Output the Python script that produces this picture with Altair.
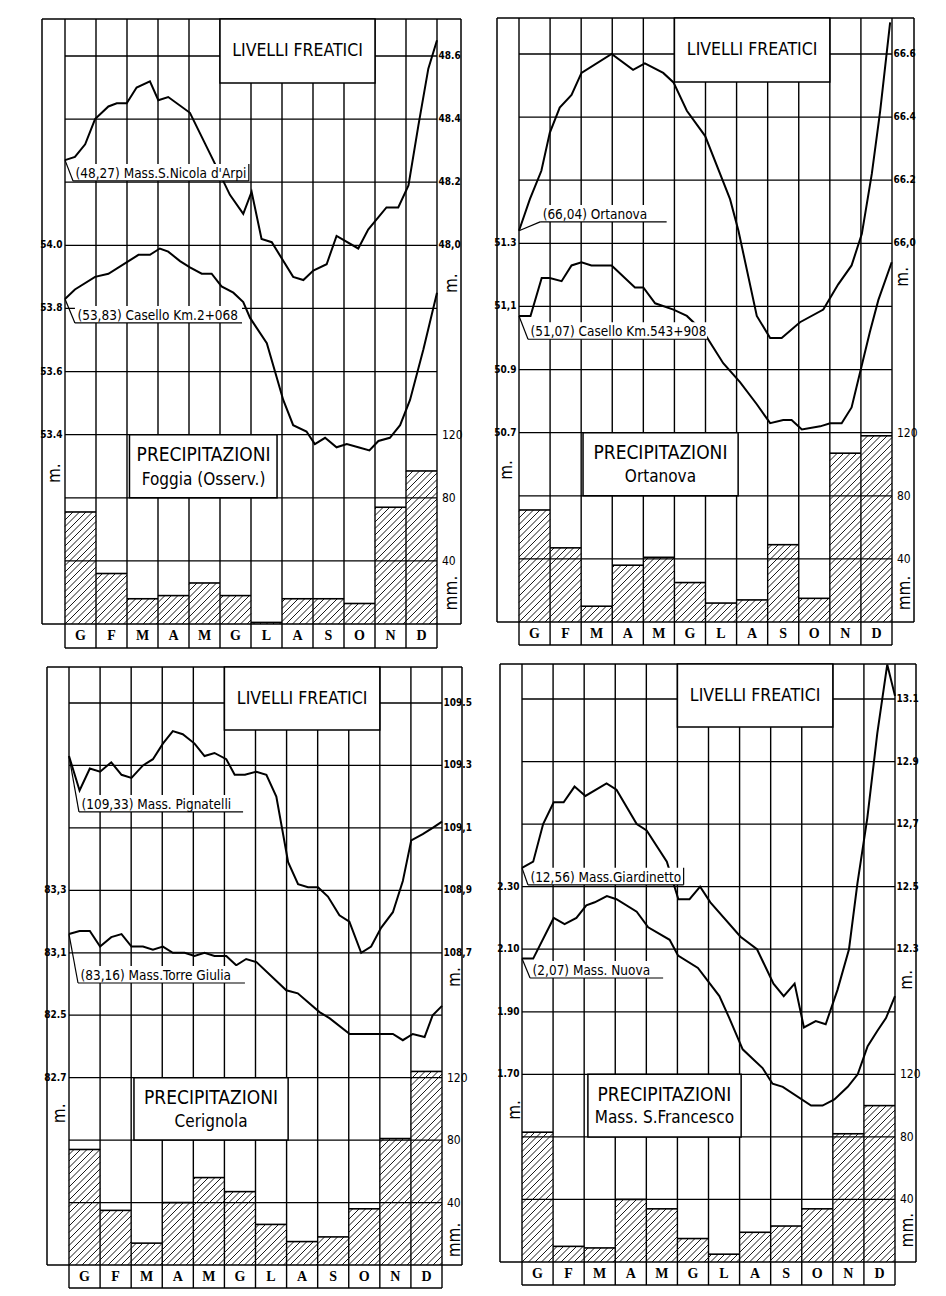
import altair as alt
import pandas as pd

MONTHS = ["G", "F", "M", "A", "M", "G", "L", "A", "S", "O", "N", "D"]
MM_TICKS = [40, 80, 120]
MM_LABELS = ["40", "80", "120"]

# ---------------- Panel 1 : Foggia ----------------
p1_rain = [71, 32, 16, 18, 26, 18, 1, 16, 16, 13, 74, 97]
p1_a_t = [0, 0.32, 0.65, 0.97, 1.40, 1.67, 1.99, 2.31, 2.74, 3.01, 3.33, 4.03, 4.78, 5.32, 5.75, 6.02,
          6.34, 6.67, 7.36, 7.69, 8.01, 8.44, 8.76, 9.46, 9.78, 10.37, 10.75, 11.08, 11.40, 11.72, 12.0]
p1_a_v = [48.27, 48.28, 48.32, 48.40, 48.44, 48.45, 48.45, 48.50, 48.52, 48.46, 48.47, 48.42, 48.27,
          48.16, 48.10, 48.17, 48.02, 48.01, 47.90, 47.89, 47.92, 47.94, 48.03, 47.99, 48.05, 48.12,
          48.12, 48.19, 48.38, 48.56, 48.65]
p1_b_t = [0, 0.32, 0.97, 1.40, 2.37, 2.74, 3.06, 3.33, 3.71, 4.03, 4.41, 4.73, 5.05, 5.43, 5.75, 5.97,
          6.51, 7.04, 7.36, 7.79, 8.06, 8.39, 8.76, 9.09, 9.46, 9.82, 10.11, 10.48, 10.81, 11.13, 11.56, 12.0]
p1_b_v = [53.83, 53.86, 53.90, 53.91, 53.97, 53.97, 53.99, 53.98, 53.95, 53.93, 53.91, 53.91, 53.87,
          53.85, 53.82, 53.77, 53.69, 53.51, 53.43, 53.41, 53.37, 53.39, 53.36, 53.37, 53.36, 53.35,
          53.38, 53.39, 53.43, 53.51, 53.67, 53.85]
p1_left_vals = [53.4, 53.6, 53.8, 54.0]
p1_left_labs = ["53.4", "53.6", "53.8", "54.0"]
p1_right_vals = [48.0, 48.2, 48.4, 48.6]
p1_right_labs = ["48,0", "48.2", "48.4", "48.6"]

# ---------------- Panel 2 : Ortanova ----------------
p2_rain = [71, 47, 10, 36, 41, 25, 12, 14, 49, 15, 107, 118]
p2_a_t = [0, 0.35, 0.72, 0.99, 1.31, 1.69, 2.01, 2.98, 3.67, 4.05, 4.64, 4.97, 5.40, 5.99, 6.79, 7.06,
          7.65, 8.08, 8.45, 9.04, 9.79, 10.27, 10.70, 11.03, 11.35, 11.62, 11.94]
p2_a_v = [66.04, 66.14, 66.23, 66.35, 66.43, 66.47, 66.54, 66.60, 66.55, 66.57, 66.54, 66.51, 66.42,
          66.34, 66.14, 66.04, 65.77, 65.70, 65.70, 65.75, 65.79, 65.87, 65.93, 66.03, 66.22, 66.42, 66.70]
p2_b_t = [0, 0.37, 0.73, 0.99, 1.37, 1.69, 2.01, 2.33, 2.98, 3.73, 4.00, 4.38, 4.97, 5.40, 5.93, 6.57,
          7.11, 7.65, 8.08, 8.50, 8.77, 9.10, 9.69, 10.01, 10.38, 10.70, 10.97, 11.29, 11.56, 11.99]
p2_b_v = [51.07, 51.07, 51.19, 51.19, 51.18, 51.23, 51.24, 51.23, 51.23, 51.16, 51.16, 51.11, 51.09,
          51.07, 51.02, 50.92, 50.86, 50.79, 50.73, 50.74, 50.74, 50.71, 50.72, 50.73, 50.73, 50.78,
          50.89, 51.02, 51.12, 51.24]
p2_left_vals = [50.7, 50.9, 51.1, 51.3]
p2_left_labs = ["50.7", "50.9", "51,1", "51.3"]
p2_right_vals = [66.0, 66.2, 66.4, 66.6]
p2_right_labs = ["66,0", "66.2", "66.4", "66.6"]

# ---------------- Panel 3 : Cerignola ----------------
p3_rain = [74, 35, 14, 40, 56, 47, 26, 15, 18, 36, 81, 124]
p3_a_t = [0, 0.34, 0.67, 1.00, 1.36, 1.69, 2.01, 2.38, 2.70, 3.02, 3.34, 3.66, 4.04, 4.36, 4.68, 5.06,
          5.33, 5.66, 6.03, 6.35, 6.67, 7.05, 7.37, 7.69, 8.01, 8.33, 8.70, 9.02, 9.40, 9.72, 10.04,
          10.42, 10.74, 11.01, 11.38, 11.70, 12.0]
p3_a_v = [109.33, 109.22, 109.29, 109.28, 109.31, 109.27, 109.26, 109.30, 109.32, 109.37, 109.41,
          109.40, 109.37, 109.33, 109.34, 109.32, 109.27, 109.27, 109.28, 109.27, 109.20, 108.99,
          108.92, 108.91, 108.91, 108.88, 108.82, 108.80, 108.70, 108.72, 108.78, 108.83, 108.93,
          109.06, 109.08, 109.10, 109.12]
p3_b_t = [0, 0.34, 0.67, 1.00, 1.36, 1.69, 2.01, 2.38, 2.70, 3.02, 3.34, 3.72, 4.04, 4.36, 4.68, 5.06,
          5.38, 5.70, 6.03, 6.99, 7.36, 8.06, 8.39, 9.03, 9.72, 10.42, 10.74, 11.06, 11.44, 11.70, 12.0]
p3_b_v = [83.16, 83.17, 83.17, 83.12, 83.15, 83.16, 83.12, 83.12, 83.11, 83.12, 83.10, 83.10, 83.09,
          83.10, 83.09, 83.09, 83.06, 83.08, 83.07, 82.98, 82.97, 82.91, 82.89, 82.84, 82.84, 82.84,
          82.82, 82.84, 82.83, 82.90, 82.93]
p3_left_vals = [82.7, 82.9, 83.1, 83.3]
p3_left_labs = ["82.7", "82.5", "83,1", "83,3"]
p3_right_vals = [108.7, 108.9, 109.1, 109.3, 109.5]
p3_right_labs = ["108,7", "108,9", "109,1", "109.3", "109.5"]

# ---------------- Panel 4 : Mass. S. Francesco ----------------
p4_rain = [83, 10, 9, 40, 34, 15, 5, 19, 23, 34, 82, 100]
p4_a_t = [0, 0.36, 0.68, 1.02, 1.34, 1.69, 2.04, 2.72, 3.04, 3.69, 4.01, 4.66, 5.03, 5.39, 5.73, 6.06,
          7.03, 7.56, 8.09, 8.42, 8.77, 9.07, 9.45, 9.77, 10.15, 10.52, 10.79, 11.11, 11.43, 11.75, 12.0]
p4_a_v = [12.56, 12.58, 12.70, 12.77, 12.77, 12.82, 12.79, 12.83, 12.81, 12.70, 12.68, 12.58, 12.46,
          12.46, 12.50, 12.45, 12.34, 12.30, 12.19, 12.15, 12.19, 12.05, 12.07, 12.06, 12.17, 12.30,
          12.51, 12.72, 12.99, 13.21, 13.11]
p4_b_t = [0, 0.36, 1.02, 1.37, 1.75, 2.07, 2.34, 2.73, 3.04, 3.69, 4.06, 4.75, 5.02, 5.66, 6.35, 6.67,
          7.10, 7.42, 7.74, 8.06, 8.39, 9.30, 9.67, 10.05, 10.48, 10.80, 11.12, 11.44, 11.71, 12.0]
p4_b_v = [2.07, 2.07, 2.20, 2.18, 2.20, 2.24, 2.25, 2.27, 2.26, 2.22, 2.17, 2.13, 2.08, 2.04, 1.95,
          1.88, 1.78, 1.75, 1.72, 1.67, 1.66, 1.60, 1.60, 1.62, 1.66, 1.70, 1.79, 1.84, 1.88, 1.95]
p4_left_vals = [1.70, 1.90, 2.10, 2.30]
p4_left_labs = ["1.70", "1.90", "2.10", "2.30"]
p4_right_vals = [12.3, 12.5, 12.7, 12.9, 13.1]
p4_right_labs = ["12.3", "12.5", "12,7", "12.9", "13.1"]

NARROW = "'Liberation Sans Narrow', 'DejaVu Sans Condensed', 'Arial Narrow', 'Liberation Sans', sans-serif"
SERIF = "'Liberation Serif', 'DejaVu Serif', serif"

# layout of each panel (pixel anchors of the grid inside the page, and the page cell)
PANELS = [
    dict(rain=p1_rain, a=(p1_a_t, p1_a_v), b=(p1_b_t, p1_b_v),
         lref=53.4, lv=p1_left_vals, ll=p1_left_labs,
         rbase=6, rref=48.0, rv=p1_right_vals, rl=p1_right_labs,
         gx=(65, 437), gy=(624, 56), cell=(8, 8, 466, 648), frame=(42, 461, 19), row=648,
         liv_bottom=83, prec=(2.08, 6.84, 4.47, 2.68, 2.28), sub="Foggia (Osserv.)",
         la=("(48,27) Mass.S.Nicola d'Arpi", 7.02, 0.26, 5.93, True),
         lb=("(53,83) Casello Km.2+068", 4.77, 0.32, 5.71, False),
         titles=[(-0.32, 2.39, "m."), (12.48, 5.40, "m."), (12.48, 0.49, "mm.")]),
    dict(rain=p2_rain, a=(p2_a_t, p2_a_v), b=(p2_b_t, p2_b_v),
         lref=50.7, lv=p2_left_vals, ll=p2_left_labs,
         rbase=6, rref=66.0, rv=p2_right_vals, rl=p2_right_labs,
         gx=(519, 892), gy=(622, 54), cell=(474, 8, 464, 648), frame=(497, 914, 18), row=645,
         liv_bottom=82, prec=(2.06, 7.05, 4.55, 2.68, 2.30), sub="Ortanova",
         la=("(66,04) Ortanova", 6.34, 0.68, 4.75, False),
         lb=("(51,07) Casello Km.543+908", 4.48, 0.29, 6.05, False),
         titles=[(-0.39, 2.41, "m."), (12.36, 5.47, "m."), (12.42, 0.46, "mm.")]),
    dict(rain=p3_rain, a=(p3_a_t, p3_a_v), b=(p3_b_t, p3_b_v),
         lref=82.7, lv=p3_left_vals, ll=p3_left_labs,
         rbase=5, rref=108.7, rv=p3_right_vals, rl=p3_right_labs,
         gx=(69, 442), gy=(1265, 703), cell=(8, 656, 466, 636), frame=(47, 462, 667), row=1288,
         liv_bottom=730, prec=(2.09, 7.05, 4.57, 2.67, 2.29), sub="Cerignola",
         la=("(109,33) Mass. Pignatelli", 7.255, 0.32, 5.6, False),
         lb=("(83,16) Mass.Torre Giulia", 4.516, 0.29, 5.66, False),
         titles=[(-0.29, 2.43, "m."), (12.42, 4.61, "m."), (12.42, 0.40, "mm.")]),
    dict(rain=p4_rain, a=(p4_a_t, p4_a_v), b=(p4_b_t, p4_b_v),
         lref=1.70, lv=p4_left_vals, ll=p4_left_labs,
         rbase=5, rref=12.3, rv=p4_right_vals, rl=p4_right_labs,
         gx=(522, 895), gy=(1262, 699), cell=(474, 656, 464, 636), frame=(500, 916, 664), row=1285,
         liv_bottom=727, prec=(2.12, 7.05, 4.58, 2.67, 2.30), sub="Mass. S.Francesco",
         la=("(12,56) Mass.Giardinetto", 6.03, 0.19, 5.2, True),
         lb=("(2,07) Mass. Nuova", 4.54, 0.26, 4.54, False),
         titles=[(-0.23, 2.43, "m."), (12.39, 4.51, "m."), (12.42, 0.51, "mm.")]),
]


def hatch_segments(rain, pxm, pxu, s=6.5):
    segs = []
    for i, r in enumerate(rain):
        x0, x1 = i * pxm, (i + 1) * pxm
        h = r / 40.0 * pxu
        if h <= 0.5:
            continue
        kmin = int((x0 - h) // s) - 1
        kmax = int(x1 // s) + 1
        for k in range(kmin, kmax + 1):
            c = k * s
            xs = max(x0, c)
            xe = min(x1, c + h)
            if xe - xs > 0.3:
                segs.append((xs / pxm, (xs - c) / pxu, xe / pxm, (xe - c) / pxu))
    return pd.DataFrame(segs, columns=["x", "y", "x2", "y2"])


def build_panel(P):
    gx0, gx12 = P["gx"]
    gy0, gy9 = P["gy"]
    pxm = (gx12 - gx0) / 12.0
    pxu = (gy0 - gy9) / 9.0
    cl, ct, cw, ch = P["cell"]
    mx = lambda px: (px - gx0) / pxm
    uy = lambda py: (gy0 - py) / pxu
    X = alt.Scale(domain=[mx(cl), mx(cl + cw)], nice=False, zero=False)
    Y = alt.Scale(domain=[uy(ct + ch), uy(ct)], nice=False, zero=False)
    fx0, fx1, ftop = mx(P["frame"][0]), mx(P["frame"][1]), uy(P["frame"][2])
    urow = uy(P["row"])

    def xe(f="x"):
        return alt.X(f"{f}:Q", scale=X, axis=None)

    def ye(f="y"):
        return alt.Y(f"{f}:Q", scale=Y, axis=None)

    def rules(df, w=1.4, color="black"):
        return alt.Chart(df).mark_rule(color=color, strokeWidth=w).encode(
            x=xe(), x2="x2:Q", y=ye(), y2="y2:Q")

    layers = []
    n = len(MONTHS)
    # vertical grid
    vg = pd.DataFrame({"x": list(range(n + 1))})
    vg["x2"] = vg["x"]
    vg["y"] = 0.0
    vg["y2"] = ftop
    layers.append(rules(vg, 1.4))
    # horizontal grid
    hg = pd.DataFrame({"y": list(range(1, 10))})
    hg["y2"] = hg["y"]
    hg["x"] = 0.0
    hg["x2"] = float(n)
    layers.append(rules(hg, 1.3))
    # frame
    fr = pd.DataFrame({"x": [fx0, fx1, fx0, fx0], "x2": [fx0, fx1, fx1, fx1],
                       "y": [0, 0, 0, ftop], "y2": [ftop, ftop, 0, ftop]})
    layers.append(rules(fr, 1.5))
    # hatch of precipitation
    layers.append(rules(hatch_segments(P["rain"], pxm, pxu), 0.9))
    # precipitation step tops
    rain_df = pd.DataFrame({"i": list(range(n)), "rain": P["rain"]})
    layers.append(
        alt.Chart(rain_df).transform_calculate(x2="datum.i + 1", u="datum.rain / 40")
        .mark_rule(color="black", strokeWidth=1.6)
        .encode(x=xe("i"), x2="x2:Q", y=ye("u"))
    )
    # white boxes
    px0, px1, pxc, pu1, pu2 = P["prec"]
    boxes = pd.DataFrame({"x": [5.0, px0], "x2": [10.0, px1],
                          "y": [uy(P["liv_bottom"]), 2.0], "y2": [ftop, 3.0]})
    layers.append(alt.Chart(boxes).mark_rect(fill="white", stroke="black", strokeWidth=1.5).encode(
        x=xe(), x2="x2:Q", y=ye(), y2="y2:Q"))
    btxt = pd.DataFrame({"x": [7.5, pxc], "y": [(uy(P["liv_bottom"]) + ftop) / 2, pu1],
                         "t": ["LIVELLI FREATICI", "PRECIPITAZIONI"], "s": [17.5, 19.0]})
    layers.append(alt.Chart(btxt).mark_text(font=NARROW, baseline="middle", align="center",
                                            color="black").encode(
        x=xe(), y=ye(), text="t:N", size=alt.Size("s:Q", scale=None, legend=None)))
    stxt = pd.DataFrame({"x": [pxc], "y": [pu2], "t": [P["sub"]]})
    layers.append(alt.Chart(stxt).mark_text(font=NARROW, fontSize=17, baseline="middle", align="center",
                                            color="black").encode(x=xe(), y=ye(), text="t:N"))

    # level lines
    lexpr = f"3 + (datum.v - {P['lref']}) / 0.2"
    rexpr = f"{P['rbase']} + (datum.v - {P['rref']}) / 0.2"
    for (t, v), expr in ((P["a"], rexpr), (P["b"], lexpr)):
        df = pd.DataFrame({"m": t, "v": v})
        layers.append(
            alt.Chart(df).transform_calculate(u=expr)
            .mark_line(color="black", strokeWidth=2, clip=True)
            .encode(x=xe("m"), y=ye("u"), order="m:Q")
        )

    # line labels
    for (t, v), lab, start_u in ((P["a"], P["la"], P["rbase"] + (P["a"][1][0] - P["rref"]) / 0.2),
                                 (P["b"], P["lb"], 3 + (P["b"][1][0] - P["lref"]) / 0.2)):
        text, u_line, x0, x1, redge = lab
        hb = 17.0 / pxu
        bg = pd.DataFrame({"x": [x0], "x2": [x1], "y": [u_line], "y2": [u_line + hb]})
        layers.append(alt.Chart(bg).mark_rect(fill="white").encode(x=xe(), x2="x2:Q", y=ye(), y2="y2:Q"))
        segs = pd.DataFrame({"x": [x0, 0.0], "x2": [x1, x0], "y": [u_line, start_u], "y2": [u_line, u_line]})
        if redge:
            segs = pd.concat([segs, pd.DataFrame({"x": [x1], "x2": [x1], "y": [u_line], "y2": [u_line + hb]})])
        layers.append(rules(segs, 1.2))
        tx = pd.DataFrame({"x": [x0 + 2.5 / pxm], "y": [u_line + 3.0 / pxu], "t": [text]})
        layers.append(alt.Chart(tx).mark_text(font=NARROW, fontSize=13.5, align="left", baseline="alphabetic",
                                              color="black").encode(x=xe(), y=ye(), text="t:N"))

    # tick labels
    ltk = pd.DataFrame({"v": P["lv"], "t": P["ll"]})
    layers.append(
        alt.Chart(ltk).transform_calculate(u=lexpr, x=f"{-2.5 / pxm}")
        .mark_text(font=NARROW, fontSize=10, fontWeight="bold", align="right", baseline="middle", color="black")
        .encode(x=xe(), y=ye("u"), text="t:N")
    )
    rtk = pd.DataFrame({"v": P["rv"], "t": P["rl"]})
    layers.append(
        alt.Chart(rtk).transform_calculate(u=rexpr, x=f"{12 + 1.5 / pxm}")
        .mark_text(font=NARROW, fontSize=10, fontWeight="bold", align="left", baseline="middle", color="black")
        .encode(x=xe(), y=ye("u"), text="t:N")
    )
    mtk = pd.DataFrame({"mm": MM_TICKS, "t": MM_LABELS})
    layers.append(
        alt.Chart(mtk).transform_calculate(u="datum.mm / 40", x=f"{12 + 5.0 / pxm}")
        .mark_text(font=NARROW, fontSize=12, align="left", baseline="middle", color="black")
        .encode(x=xe(), y=ye("u"), text="t:N")
    )
    ttl = pd.DataFrame(P["titles"], columns=["x", "y", "t"])
    layers.append(alt.Chart(ttl).mark_text(font=NARROW, fontSize=17, angle=270, align="center",
                                           baseline="middle", color="black").encode(x=xe(), y=ye(), text="t:N"))

    # month row
    mr = pd.DataFrame({"x": list(range(n + 1))})
    mr["x2"] = mr["x"]
    mr["y"] = urow
    mr["y2"] = 0.0
    mr2 = pd.DataFrame({"x": [0.0], "x2": [float(n)], "y": [urow], "y2": [urow]})
    layers.append(rules(pd.concat([mr, mr2]), 1.4))
    ml = pd.DataFrame({"m": MONTHS, "i": list(range(n))})
    layers.append(
        alt.Chart(ml).transform_calculate(x="datum.i + 0.5", y=f"{urow / 2}")
        .mark_text(font=SERIF, fontSize=14, fontWeight="bold", align="center", baseline="middle", color="black")
        .encode(x=xe(), y=ye(), text="m:N")
    )

    return alt.layer(*layers).properties(width=cw, height=ch)


charts = [build_panel(P) for P in PANELS]
chart = (
    alt.concat(*charts, columns=2, spacing=0, bounds="flush")
    .properties(padding=0, background="white")
    .configure_view(strokeWidth=0)
)
chart.save("out.html", embed_options={"renderer": "svg", "actions": False})
